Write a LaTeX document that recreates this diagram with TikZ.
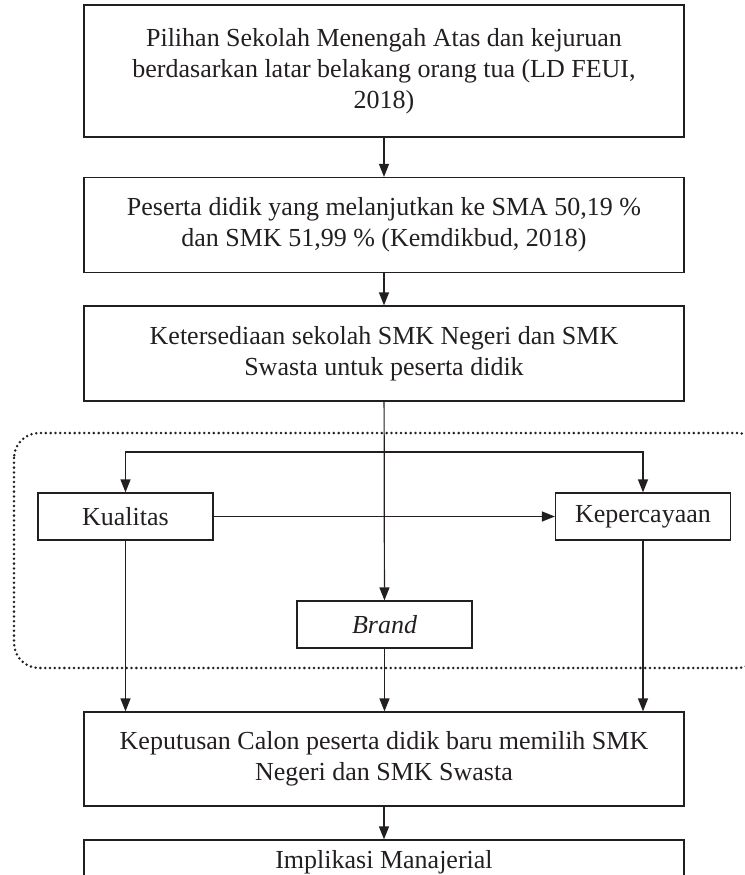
\documentclass[tikz,border=0pt]{standalone}
\usepackage{fontspec}
\setmainfont{Liberation Serif}
\usetikzlibrary{arrows.meta, positioning}
\definecolor{tinta}{HTML}{231F20}

\begin{document}
\begin{tikzpicture}[x=0.5pt, y=-0.5pt]

	\tikzstyle{kotak}=[draw=tinta, line width=0.6pt, text=tinta, inner sep=0pt, align=center, font=\fontsize{13}{15.5}\selectfont]
	\tikzstyle{utama}=[kotak, minimum width=300pt]
	\tikzstyle{faktor}=[kotak, minimum width=87.5pt, minimum height=23.5pt]
	\tikzstyle{panah}=[-{Triangle[length=6.5pt, width=5pt]}, draw=tinta, line width=0.6pt]

	\useasboundingbox (0, 0) rectangle (745, 875);

	\coordinate (k_1) at (384, 71);
	\coordinate (k_2) at (384, 225);
	\coordinate (k_3) at (384, 353.5);
	\coordinate (k_4) at (384, 759);
	\coordinate (k_5) at (384, 862);

	\coordinate (f_1) at (125.5, 516.5); % KUALITAS
	\coordinate (f_2) at (643, 516.5); % KEPERCAYAAN
	\coordinate (f_3) at (384.5, 624.5); % BRAND

	\coordinate (cabang) at (384, 452);

	% kotak luar bertitik
	\draw[tinta, line width=1.4pt, dash pattern=on 0pt off 2.4pt, line cap=round, rounded corners=12.5pt] (14, 433) rectangle (762, 668);

	\node[utama, minimum height=66pt] (k_1) at (k_1) {Pilihan Sekolah Menengah Atas dan kejuruan\\berdasarkan latar belakang orang tua (LD FEUI,\\2018)};
	\node[utama, minimum height=47.5pt] (k_2) at (k_2) {Peserta didik yang melanjutkan ke SMA 50,19 \%\\dan SMK 51,99 \% (Kemdikbud, 2018)};
	\node[utama, minimum height=47.5pt] (k_3) at (k_3) {Ketersediaan sekolah SMK Negeri dan SMK\\Swasta untuk peserta didik};
	\node[utama, minimum height=47pt] (k_4) at (k_4) {Keputusan Calon peserta didik baru memilih SMK\\Negeri dan SMK Swasta};
	\node[utama, minimum height=22pt] (k_5) at (k_5) {Implikasi Manajerial};

	\node[faktor] (f_1) at (f_1) {Kualitas};
	\node[faktor] (f_2) at (f_2) {Kepercayaan};
	\node[faktor] (f_3) at (f_3) {\itshape Brand};

	\draw[panah] (k_1) -- (k_2);
	\draw[panah] (k_2) -- (k_3);
	\draw[panah] (k_3) -- (f_3);
	\draw[panah] (cabang) -| (f_1);
	\draw[panah] (cabang) -| (f_2);
	\draw[panah] (f_1) -- (f_2);

	\draw[panah] (f_1) -- (f_1 |- k_4.north);
	\draw[panah] (f_3) -- (f_3 |- k_4.north);
	\draw[panah] (f_2) -- (f_2 |- k_4.north);
	\draw[panah] (k_4) -- (k_5);
\end{tikzpicture}
\end{document}
